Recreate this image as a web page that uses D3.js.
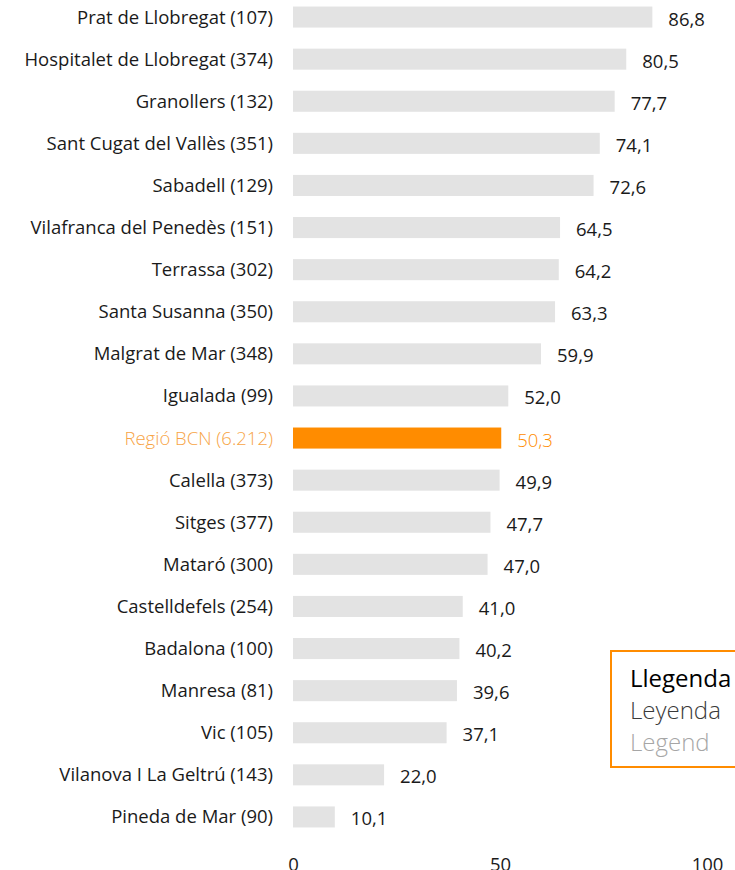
<!DOCTYPE html>
<html>
<head>
<meta charset="utf-8">
<script src="https://cdn.jsdelivr.net/npm/d3@7"></script>
<style>
  body { margin: 0; background: #fff; overflow: hidden; }
  svg { display: block; font-family: "Open Sans", sans-serif; }
</style>
</head>
<body>
<div id="chart"></div>
<script>
// categories and values (top to bottom)
var cities = [
  "Prat de Llobregat (107)", "Hospitalet de Llobregat (374)", "Granollers (132)",
  "Sant Cugat del Vallès (351)", "Sabadell (129)", "Vilafranca del Penedès (151)",
  "Terrassa (302)", "Santa Susanna (350)", "Malgrat de Mar (348)", "Igualada (99)",
  "Regió BCN (6.212)", "Calella (373)", "Sitges (377)", "Mataró (300)",
  "Castelldefels (254)", "Badalona (100)", "Manresa (81)", "Vic (105)",
  "Vilanova I La Geltrú (143)", "Pineda de Mar (90)"
];
var values = [86.8, 80.5, 77.7, 74.1, 72.6, 64.5, 64.2, 63.3, 59.9, 52.0,
  50.3, 49.9, 47.7, 47.0, 41.0, 40.2, 39.6, 37.1, 22.0, 10.1];
var highlight = "Regió BCN (6.212)";
var xTicks = [0, 50, 100];
var legendLines = ["Llegenda", "Leyenda", "Legend"];

var W = 735, H = 870;

var svg = d3.select("#chart").append("svg")
  .attr("width", W)
  .attr("height", H);

var x = d3.scaleLinear().domain([0, 100]).range([293, 707]);
var y = d3.scaleBand().domain(cities).range([-4, 838])
  .paddingInner(0.5).paddingOuter(0.25);

var fmt = function(v) { return d3.format(".1f")(v).replace(".", ","); };

var rows = svg.selectAll(".row")
  .data(cities)
  .enter().append("g")
  .attr("class", "row");

rows.append("rect")
  .attr("x", x(0))
  .attr("y", function(d) { return y(d); })
  .attr("width", function(d, i) { return x(values[i]) - x(0); })
  .attr("height", y.bandwidth())
  .style("fill", function(d) { return d == highlight ? "#ff8c00" : "#e3e3e3"; });

// category labels
rows.append("text")
  .attr("x", 273)
  .attr("y", function(d) { return y(d) + y.bandwidth() / 2; })
  .attr("dy", "0.35em")
  .attr("text-anchor", "end")
  .style("font-size", "18.5px")
  .style("font-weight", function(d) { return d == highlight ? 300 : 400; })
  .style("fill", function(d) { return d == highlight ? "#f7a445" : "#1a1a1a"; })
  .text(function(d) { return d; });

// value labels
rows.append("text")
  .attr("x", function(d, i) { return x(values[i]) + 16; })
  .attr("y", function(d) { return y(d) + y.bandwidth() / 2 + 2; })
  .attr("dy", "0.35em")
  .style("font-size", "18.5px")
  .style("font-weight", function(d) { return d == highlight ? 300 : 400; })
  .style("fill", function(d) { return d == highlight ? "#ff8c00" : "#1a1a1a"; })
  .text(function(d, i) { return fmt(values[i]); });

// x axis (bottom, partly cut by the frame as in the source)
var axis = svg.append("g")
  .attr("transform", "translate(0,857)")
  .call(d3.axisBottom(x).tickValues(xTicks).tickSize(0).tickPadding(0));
axis.select(".domain").remove();
axis.selectAll("text")
  .attr("dy", "0.75em")
  .style("font-family", "'Open Sans', sans-serif")
  .style("font-size", "18.5px")
  .style("fill", "#1a1a1a");

// legend box
var lg = svg.append("g");
lg.append("rect")
  .attr("x", 611)
  .attr("y", 651)
  .attr("width", 140)
  .attr("height", 116)
  .style("fill", "#fff")
  .style("stroke", "#ff8c00")
  .style("stroke-width", 2);

lg.selectAll("text")
  .data(legendLines)
  .enter().append("text")
  .attr("x", 630)
  .attr("y", function(d, i) { return 687 + i * 32; })
  .style("font-size", "24px")
  .style("font-weight", function(d, i) { return i == 0 ? 400 : 300; })
  .style("fill", function(d, i) { return ["#000", "#3a3a3a", "#a6a6a6"][i]; })
  .text(function(d) { return d; });
</script>
</body>
</html>
